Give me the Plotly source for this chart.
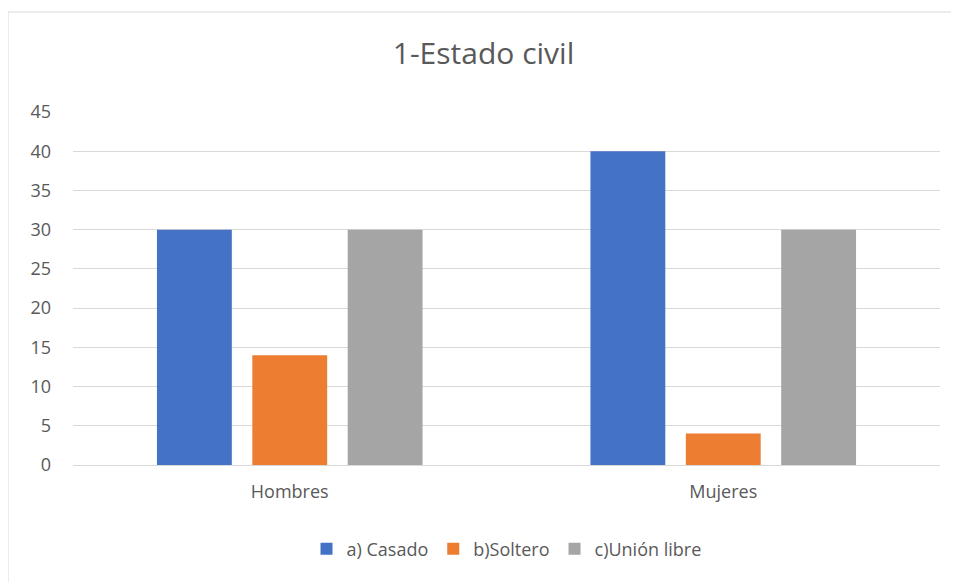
import plotly.graph_objects as go

categories = ["Hombres", "Mujeres"]
series_names = ["a) Casado", "b)Soltero", "c)Unión libre"]
casado = [30, 40]
soltero = [14, 4]
union_libre = [30, 30]
colors = ["#4472C4", "#ED7D31", "#A5A5A5"]
tick_vals = [0, 5, 10, 15, 20, 25, 30, 35, 40, 45]

fig = go.Figure()
for name, vals, c in zip(series_names, [casado, soltero, union_libre], colors):
    fig.add_trace(go.Bar(x=categories, y=vals, name=name, marker=dict(color=c, line=dict(width=0))))

OFF = 8  # page body margin
W, H = 959 - OFF, 582 - OFF
L, R, T, B = 73 - OFF, 19, 112 - OFF, 117
pw = W - L - R
ph = H - T - B

def py(pix):  # reference pixel y -> paper y
    return (T + ph - (pix - OFF)) / ph

def px(pix):
    return ((pix - OFF) - L) / pw

fig.update_layout(
    width=W, height=H,
    margin=dict(l=L, r=R, t=T, b=B),
    paper_bgcolor="white", plot_bgcolor="white",
    font=dict(family="Open Sans, Liberation Sans, sans-serif", color="#595959", size=18),
    title=dict(text="1-Estado civil", x=0.5, xanchor="center", y=1 - (53 - OFF) / H, yanchor="middle",
               font=dict(size=30, color="#595959")),
    barmode="group", bargap=0.34, bargroupgap=0.215,
    showlegend=True,
    legend=dict(orientation="h", x=0.5, xanchor="center", y=py(549), yanchor="middle",
                font=dict(size=18, color="#595959"), itemwidth=30, traceorder="normal"),
    xaxis=dict(showgrid=False, showline=False, ticks="", tickfont=dict(size=18), ticklabelstandoff=14),
    yaxis=dict(range=[0, 45], tickvals=tick_vals, showgrid=True, gridcolor="#D9D9D9", gridwidth=1,
               zeroline=True, zerolinecolor="#D9D9D9", zerolinewidth=1, showline=False,
               tickfont=dict(size=18), ticklabelstandoff=21),
    shapes=[dict(type="rect", xref="paper", yref="paper",
                 x0=px(8), x1=px(965),
                 y0=py(590), y1=py(12),
                 line=dict(color="#D9D9D9", width=1), fillcolor="rgba(0,0,0,0)", layer="below")],
)

fig.write_html("out.html")
